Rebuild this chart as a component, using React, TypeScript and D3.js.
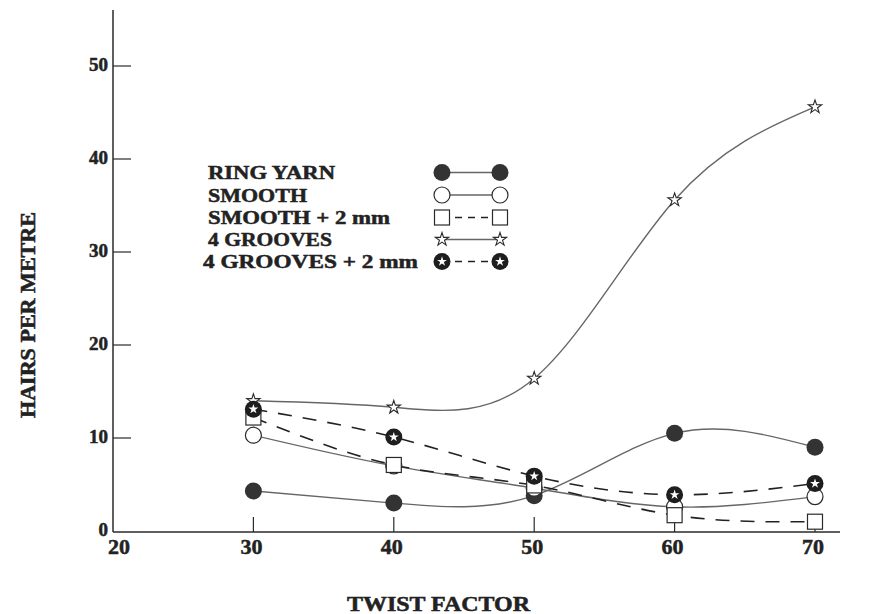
import React from "react";
import * as d3 from "d3";

const twist = [30, 40, 50, 60, 70];
const ringYarn = [4.3, 3.0, 3.8, 10.5, 9.0];
const smooth = [10.3, 7.0, 4.6, 2.6, 3.7];
const smooth2mm = [12.2, 7.1, 4.9, 1.7, 1.0];
const grooves4 = [14.0, 13.3, 16.4, 35.6, 45.6];
const grooves4_2mm = [13.1, 10.1, 5.9, 3.9, 5.1];
const xTicks = [20, 30, 40, 50, 60, 70];
const yTicks = [0, 10, 20, 30, 40, 50];
const legendLabels = ["RING YARN", "SMOOTH", "SMOOTH + 2 mm", "4 GROOVES", "4 GROOVES + 2 mm"];

const W = 870, H = 614;
const x = d3.scaleLinear().domain([20, 70]).range([113, 815]);
const y = d3.scaleLinear().domain([0, 50]).range([531, 66]);
const FONT = "'Liberation Serif', 'Times New Roman', serif";
const INK = "#2a2a2a";
const LINE = "#666";

type Kind = "filled" | "open" | "square" | "star" | "starCircle";

const series: { values: number[]; kind: Kind; dashed: boolean }[] = [
  { values: ringYarn, kind: "filled", dashed: false },
  { values: smooth, kind: "open", dashed: false },
  { values: smooth2mm, kind: "square", dashed: true },
  { values: grooves4, kind: "star", dashed: false },
  { values: grooves4_2mm, kind: "starCircle", dashed: true },
];

const starPath = (size: number) => d3.symbol().type(d3.symbolStar).size(size)() as string;

function Marker({ cx, cy, kind }: { cx: number; cy: number; kind: Kind }) {
  switch (kind) {
    case "filled":
      return <circle cx={cx} cy={cy} r={8.5} fill="#333" />;
    case "open":
      return <circle cx={cx} cy={cy} r={8} fill="white" stroke={INK} strokeWidth={1.2} />;
    case "square":
      return <rect x={cx - 7.5} y={cy - 7.5} width={15} height={15} fill="white" stroke={INK} strokeWidth={1.2} />;
    case "star":
      return <path d={starPath(55)} transform={`translate(${cx},${cy})`} fill="white" stroke={INK} strokeWidth={1.1} />;
    case "starCircle":
      return (
        <g transform={`translate(${cx},${cy})`}>
          <circle r={8.5} fill="#1e1e1e" />
          <path d={starPath(30)} fill="white" />
        </g>
      );
  }
}

const legendWidths = [127, 99, 182, 124, 215];
const legendX = [208, 208, 208, 208, 203];

export default function App() {
  const line = d3
    .line<number>()
    .x((_, i) => x(twist[i]))
    .y((d) => y(d))
    .curve(d3.curveNatural);

  const legendBase = [179, 201.5, 224, 246, 268];
  const heavy = { stroke: "#222", strokeWidth: 0.5 };

  return (
    <svg width={W} height={H} style={{ position: "absolute", left: 0, top: 0, background: "white" }}>
      {/* axes */}
      <line x1={x(20)} y1={10} x2={x(20)} y2={532} stroke={INK} strokeWidth={1.5} />
      <line x1={x(20)} y1={532} x2={840} y2={532} stroke={INK} strokeWidth={1.5} />
      {yTicks.map((t) => (
        <g key={"y" + t}>
          {t > 0 && <line x1={x(20)} x2={x(20) + 18} y1={y(t)} y2={y(t)} stroke={INK} strokeWidth={1.2} />}
          <text
            x={108}
            y={y(t) + 5}
            textAnchor="end"
            fontFamily={FONT}
            fontWeight="bold"
            fontSize={19}
            fill="#222"
            {...heavy}
          >
            {t}
          </text>
        </g>
      ))}
      {xTicks.map((t) => (
        <g key={"x" + t}>
          {t > 20 && <line x1={x(t)} x2={x(t)} y1={532} y2={517} stroke={INK} strokeWidth={1.2} />}
          <text
            x={t === 20 ? x(t) + 6 : x(t) - 2}
            y={554}
            textAnchor="middle"
            fontFamily={FONT}
            fontWeight="bold"
            fontSize={22}
            fill="#222"
            {...heavy}
          >
            {t}
          </text>
        </g>
      ))}
      <text
        x={347}
        y={611}
        textLength={183}
        lengthAdjust="spacingAndGlyphs"
        fontFamily={FONT}
        fontWeight="bold"
        fontSize={20}
        fill="#222"
        {...heavy}
      >
        TWIST FACTOR
      </text>
      <text
        transform={`translate(35,418) rotate(-90)`}
        textLength={206}
        lengthAdjust="spacingAndGlyphs"
        fontFamily={FONT}
        fontWeight="bold"
        fontSize={20}
        fill="#222"
        {...heavy}
      >
        HAIRS PER METRE
      </text>

      {/* curves */}
      {series.map((s, i) => (
        <path
          key={"l" + i}
          d={line(s.values) as string}
          fill="none"
          stroke={s.dashed ? "#222" : LINE}
          strokeWidth={s.dashed ? 1.6 : 1.4}
          strokeDasharray={s.dashed ? "14,11" : undefined}
        />
      ))}
      {series.map((s, i) =>
        s.values.map((v, j) => <Marker key={`m${i}-${j}`} cx={x(twist[j])} cy={y(v)} kind={s.kind} />)
      )}

      {/* legend */}
      {legendLabels.map((lab, i) => {
        const cy = legendBase[i] - 6.5;
        return (
          <g key={"lg" + i}>
            <text
              x={legendX[i]}
              y={legendBase[i]}
              textLength={legendWidths[i]}
              lengthAdjust="spacingAndGlyphs"
              fontFamily={FONT}
              fontWeight="bold"
              fontSize={19}
              fill="#222"
              {...heavy}
            >
              {lab}
            </text>
            <line
              x1={442}
              x2={500}
              y1={cy}
              y2={cy}
              stroke={series[i].dashed ? "#222" : LINE}
              strokeWidth={1.4}
              strokeDasharray={series[i].dashed ? "7,6" : undefined}
            />
            <Marker cx={442} cy={cy} kind={series[i].kind} />
            <Marker cx={500} cy={cy} kind={series[i].kind} />
          </g>
        );
      })}
    </svg>
  );
}
